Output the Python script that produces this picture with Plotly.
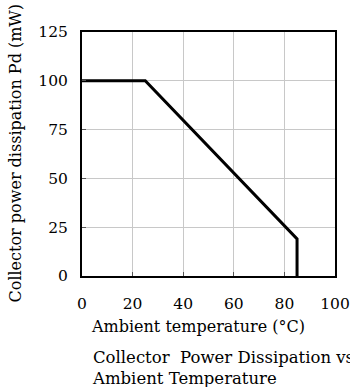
import plotly.graph_objects as go

# Data
temperature = [0, 25, 85, 85]
power_mw = [100, 100, 19, 0]
x_ticks = [0, 20, 40, 60, 80, 100]
y_ticks = [0, 25, 50, 75, 100, 125]

FONT = "DejaVu Serif"
fig = go.Figure()
fig.add_trace(go.Scatter(x=temperature, y=power_mw, mode="lines",
                         line=dict(color="black", width=3), showlegend=False))

axis_common = dict(showgrid=True, gridcolor="#c8c8c8", gridwidth=1,
                   showline=True, linecolor="black", linewidth=2, mirror=True,
                   ticks="inside", ticklen=4, tickcolor="#555555", tickwidth=1,
                   zeroline=False, automargin=False, ticklabeloverflow="allow",
                   tickfont=dict(family=FONT, size=15.5, color="black"))

fig.update_xaxes(range=[0, 100], tickvals=x_ticks, ticktext=[str(v) for v in x_ticks],
                 ticklabelstandoff=12, **axis_common)
fig.update_yaxes(range=[0, 125], tickvals=y_ticks, ticktext=[str(v) for v in y_ticks],
                 ticklabelstandoff=9, **axis_common)

fig.add_annotation(text="Ambient temperature (°C)", xref="paper", yref="paper",
                   x=0.46, y=-0.209, xanchor="center", yanchor="middle",
                   showarrow=False, font=dict(family=FONT, size=16, color="black"))
fig.add_annotation(text="Collector power dissipation Pd (mW)", xref="paper", yref="paper",
                   x=-0.262, y=0.505, xanchor="center", yanchor="middle", textangle=-90,
                   showarrow=False, font=dict(family=FONT, size=16, color="black"))
fig.add_annotation(text="Collector  Power Dissipation vs.<br>Ambient Temperature",
                   xref="paper", yref="paper", x=0.03, y=-0.285, xanchor="left", yanchor="top",
                   align="left", showarrow=False, font=dict(family=FONT, size=16.5, color="black"))

fig.update_layout(width=350, height=387, margin=dict(l=82, r=15, t=32, b=111),
                  plot_bgcolor="white", paper_bgcolor="white")
fig.write_html("out.html")
